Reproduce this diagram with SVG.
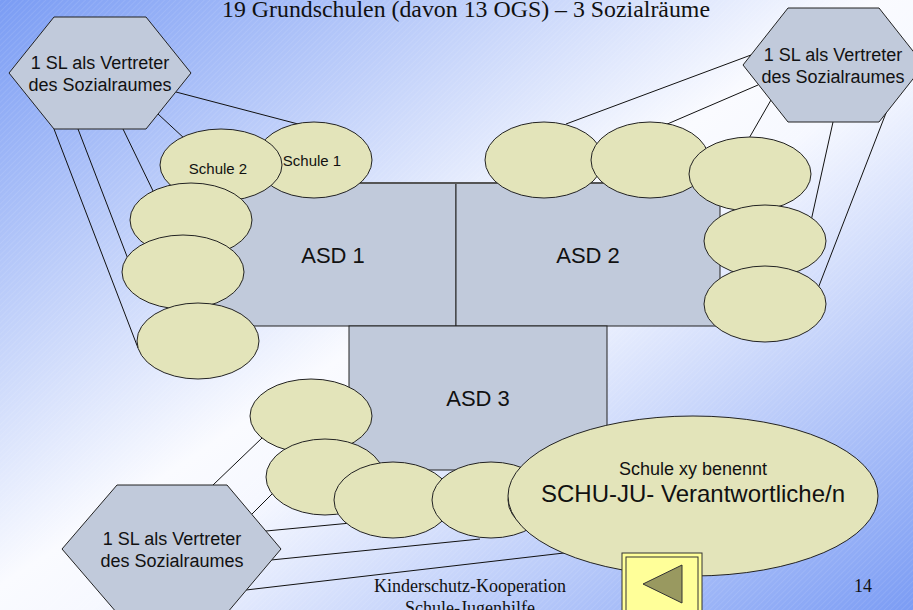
<svg xmlns="http://www.w3.org/2000/svg" width="913" height="610" viewBox="0 0 913 610">
<defs>
<linearGradient id="bg" x1="0" y1="0" x2="1" y2="1">
<stop offset="0" stop-color="#7a9cf4"/>
<stop offset="0.48" stop-color="#fafbff"/>
<stop offset="0.55" stop-color="#f6f8ff"/>
<stop offset="1" stop-color="#7b9cf4"/>
</linearGradient>
<pattern id="hatch" width="4" height="4" patternUnits="userSpaceOnUse" patternTransform="rotate(45)">
<line x1="0" y1="0" x2="0" y2="4" stroke="#ffffff" stroke-opacity="0.18" stroke-width="1"/>
</pattern>
<style>
.asd{fill:#c1cadb;stroke:#222;stroke-width:1}
.sch{fill:#e3e4ba;stroke:#222;stroke-width:1}
.hex{fill:#c1cadb;stroke:#222;stroke-width:1}
.con{stroke:#111;stroke-width:1;fill:none}
.lbl{font-family:"Liberation Sans",Arial,sans-serif;fill:#111;text-anchor:middle}
.ser{font-family:"Liberation Serif","Times New Roman",serif;fill:#111;text-anchor:middle}
</style>
</defs>
<rect x="0" y="0" width="913" height="610" fill="url(#bg)"/>
<rect x="0" y="0" width="913" height="610" fill="url(#hatch)"/>

<text class="ser" x="466" y="17" font-size="23" textLength="488" lengthAdjust="spacingAndGlyphs">19 Grundschulen (davon 13 OGS) – 3 Sozialräume</text>
<text class="ser" x="470" y="592" font-size="18">Kinderschutz-Kooperation</text>
<text class="ser" x="470" y="614" font-size="18">Schule-Jugenhilfe</text>
<text class="ser" x="863" y="592" font-size="18">14</text>

<g id="connectors">
<line class="con" x1="54" y1="129" x2="138" y2="348"/>
<line class="con" x1="78" y1="129" x2="128" y2="259"/>
<line class="con" x1="123" y1="129" x2="155" y2="195"/>
<line class="con" x1="158" y1="114" x2="185" y2="139"/>
<line class="con" x1="176" y1="92" x2="298" y2="124"/>
<line class="con" x1="751" y1="55" x2="566" y2="124"/>
<line class="con" x1="758" y1="85" x2="665" y2="125"/>
<line class="con" x1="771" y1="100" x2="748" y2="140"/>
<line class="con" x1="833" y1="122" x2="811" y2="221"/>
<line class="con" x1="886" y1="113" x2="817" y2="291"/>
<line class="con" x1="213" y1="485" x2="262" y2="438"/>
<line class="con" x1="252" y1="514" x2="275" y2="491"/>
<line class="con" x1="266" y1="531" x2="351" y2="523"/>
<line class="con" x1="271" y1="560" x2="480" y2="539"/>
<line class="con" x1="246" y1="590" x2="564" y2="553"/>
</g>

<g id="asd1"><rect class="asd" x="200" y="183" width="256" height="143"/><text class="lbl" x="333" y="263" font-size="22">ASD 1</text></g>
<g id="asd2"><rect class="asd" x="456" y="183" width="264" height="143"/><text class="lbl" x="588" y="263" font-size="22">ASD 2</text></g>
<line x1="200" y1="183" x2="720" y2="183" stroke="#555" stroke-width="2"/>
<g id="asd3"><rect class="asd" x="349" y="326" width="258" height="144"/><text class="lbl" x="478" y="406" font-size="22">ASD 3</text></g>

<g id="schule1"><ellipse class="sch" cx="314" cy="160" rx="58" ry="38"/><text class="lbl" x="312" y="166" font-size="15">Schule 1</text></g>
<g id="schule2"><ellipse class="sch" cx="221" cy="165" rx="61" ry="36"/><text class="lbl" x="218" y="174" font-size="15">Schule 2</text></g>
<g id="l3"><ellipse class="sch" cx="191" cy="220" rx="61" ry="37"/></g>
<g id="l4"><ellipse class="sch" cx="183" cy="272" rx="61" ry="37"/></g>
<g id="l5"><ellipse class="sch" cx="198" cy="341" rx="61" ry="38"/></g>

<g id="r1"><ellipse class="sch" cx="544" cy="160" rx="59" ry="38"/></g>
<g id="r2"><ellipse class="sch" cx="650" cy="160" rx="59" ry="38"/></g>
<g id="r3"><ellipse class="sch" cx="750" cy="174" rx="61" ry="37"/></g>
<g id="r4"><ellipse class="sch" cx="765" cy="241" rx="61" ry="36"/></g>
<g id="r5"><ellipse class="sch" cx="765" cy="304" rx="61" ry="38"/></g>

<g id="b1"><ellipse class="sch" cx="311" cy="416" rx="61" ry="37"/></g>
<g id="b2"><ellipse class="sch" cx="325" cy="477" rx="59" ry="38"/></g>
<g id="b3"><ellipse class="sch" cx="393" cy="500" rx="59" ry="38"/></g>
<g id="b4"><ellipse class="sch" cx="491" cy="500" rx="59" ry="38"/></g>
<g id="b5"><ellipse class="sch" cx="567" cy="500" rx="59" ry="38"/></g>

<g id="hex-top-left"><polygon class="hex" points="9,73 54,17 146,17 191,73 146,129 54,129"/><text class="lbl" x="100" y="69" font-size="18">1 SL als Vertreter</text><text class="lbl" x="100" y="91" font-size="18">des Sozialraumes</text></g>
<g id="hex-top-right"><polygon class="hex" points="743,65 788,8 879,8 924,65 879,122 788,122"/><text class="lbl" x="833" y="61" font-size="18">1 SL als Vertreter</text><text class="lbl" x="833" y="83" font-size="18">des Sozialraumes</text></g>
<g id="hex-bottom-left"><polygon class="hex" points="62,549 117,485 227,485 281,549 227,613 117,613"/><text class="lbl" x="172" y="545" font-size="18">1 SL als Vertreter</text><text class="lbl" x="172" y="567" font-size="18">des Sozialraumes</text></g>

<g id="schule-xy"><ellipse class="sch" cx="693" cy="496" rx="185" ry="80"/><text class="lbl" x="693" y="475" font-size="18">Schule xy benennt</text><text class="lbl" x="693" y="502" font-size="24">SCHU-JU- Verantwortliche/n</text></g>

<g id="back-button">
<rect x="622" y="553" width="80" height="70" fill="#ffff99" stroke="#333" stroke-width="1"/>
<rect x="626" y="557" width="72" height="62" fill="#ffff99" stroke="#333" stroke-width="1"/>
<polygon points="643,584 682,565 682,603" fill="#999960" stroke="#333" stroke-width="1"/>
</g>
</svg>
